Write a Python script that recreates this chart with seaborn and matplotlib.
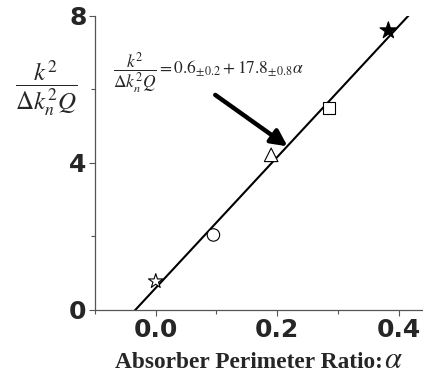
import numpy as np
import pandas as pd
import matplotlib
matplotlib.use("Agg")
import matplotlib.pyplot as plt
import seaborn as sns

# Data
alpha = [0.0, 0.095, 0.19, 0.286, 0.383]
ratio = [0.78, 2.04, 4.22, 5.50, 7.60]
shape = ["open star", "circle", "triangle", "square", "filled star"]
filled = [False, False, False, False, True]

# fitted line: k^2/(dk^2 Q) = 0.6 + 17.8 alpha
intercept = 0.6
slope = 17.8
fit_x = [-0.05, 0.45]

x_ticks = [0.0, 0.2, 0.4]
y_ticks = [0, 4, 8]

# ── Figure ─────────────────────────────────────────────────────────────────────

sns.set_theme(style="ticks")
plt.rcParams["mathtext.fontset"] = "stix"
plt.rcParams["font.family"] = ["DejaVu Sans"]

fig = plt.figure(figsize=(4.23, 3.78), dpi=100)
ax = fig.add_axes([0.2246, 0.180, 0.7754, 0.778])

df = pd.DataFrame({"alpha": alpha, "ratio": ratio, "shape": shape})
line_df = pd.DataFrame({"x": fit_x, "y": [intercept + slope * v for v in fit_x]})

sns.lineplot(data=line_df, x="x", y="y", color="black", lw=1.5, ax=ax)
sns.scatterplot(
    data=df, x="alpha", y="ratio", style="shape",
    markers={"open star": "*", "circle": "o", "triangle": "^",
             "square": "s", "filled star": "*"},
    color="black", linewidth=0.8, legend=False, ax=ax, zorder=3,
)
pts = ax.collections[-1]
pts.set_facecolors(["black" if f else "white" for f in filled])
pts.set_edgecolors("black")
pts.set_sizes([120, 80, 95, 75, 160])

ax.annotate(
    "", xy=(0.217, 4.45), xytext=(0.098, 5.85),
    arrowprops=dict(arrowstyle="-|>", color="black", lw=3.2, mutation_scale=24,
                    shrinkA=0, shrinkB=0),
)
ax.text(-0.07, 6.42,
        r"$\dfrac{k^2}{\Delta k_n^2 Q} = 0.6_{\pm0.2} + 17.8_{\pm0.8}\alpha$",
        fontsize=12.5, va="center", ha="left")

ax.set_xlim(-0.1, 0.44)
ax.set_ylim(0, 8)
ax.set_xticks(x_ticks)
ax.set_xticklabels(["0.0", "0.2", "0.4"])
ax.set_xticks([-0.1, 0.1, 0.3], minor=True)
ax.set_yticks(y_ticks)
ax.set_yticks([2, 6], minor=True)
ax.tick_params(axis="both", which="major", labelsize=18, length=4, width=0.8,
               color="#555555", pad=2)
ax.tick_params(axis="both", which="minor", length=3, width=0.8, color="#555555")
for lab in ax.get_xticklabels() + ax.get_yticklabels():
    lab.set_fontweight("bold")

for side in ["top", "right"]:
    ax.spines[side].set_visible(False)
for side in ["left", "bottom"]:
    ax.spines[side].set_color("#555555")
    ax.spines[side].set_linewidth(0.9)

# x label: bold serif words followed by a larger italic alpha
ax.set_xlabel("")
ax.set_ylabel("")
fig.text(383 / 423, 1 - 368 / 378, "Absorber Perimeter Ratio:", fontsize=16.8,
         fontweight="bold", family=["Liberation Serif"], ha="right",
         va="baseline")
fig.text(384 / 423, 1 - 368 / 378, r"$\alpha$", fontsize=22, ha="left",
         va="baseline")
fig.text(0.108, 0.765, r"$\dfrac{k^2}{\Delta k_n^2 Q}$", fontsize=18,
         ha="center", va="center")

fig.savefig("out.png", dpi=100)
